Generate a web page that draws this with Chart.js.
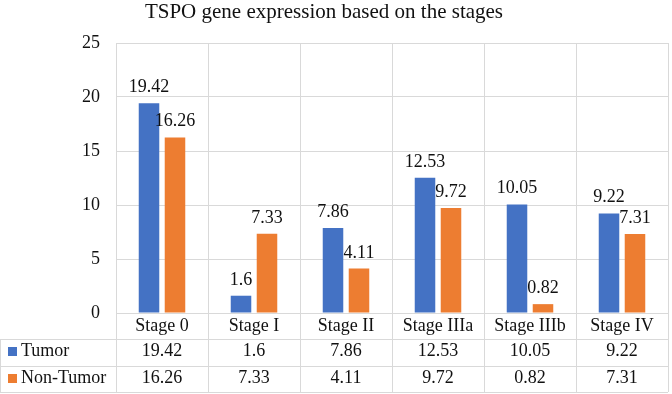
<!DOCTYPE html>
<html>
<head>
<meta charset="utf-8">
<script src="https://cdn.jsdelivr.net/npm/chart.js@4"></script>
<style>
    body { margin: 0; background: #fff; }
    #wrap { position: relative; width: 672px; height: 394px; }
    #title {
        position: absolute; left: 0; top: 1px; width: 648px;
        text-align: center; font-family: "Liberation Serif", "Times New Roman", Times, serif;
        font-size: 21px; line-height: 21px; color: #111; white-space: nowrap;
    }
</style>
</head>
<body>
<div id="wrap">
    <canvas id="StageChart" width="672" height="394"></canvas>
    <div id="title">TSPO gene expression based on the stages</div>
</div>
<script>
// chart data
const stageLabels = ['Stage 0', 'Stage I', 'Stage II', 'Stage IIIa', 'Stage IIIb', 'Stage IV'];
const seriesNames = ['Tumor', 'Non-Tumor'];
const tumorData = [19.42, 1.6, 7.86, 12.53, 10.05, 9.22];
const nonTumorData = [16.26, 7.33, 4.11, 9.72, 0.82, 7.31];
const yTicks = [0, 5, 10, 15, 20, 25];

const blue = '#4472C4';
const orange = '#ED7D31';
const gridColor = '#D9D9D9';
const textColor = '#111';
const serif = '"Liberation Serif", "Times New Roman", Times, serif';

// lines of the data table under the plot, and text baselines of its rows
const tableRows = [339, 366, 392];
const rowBaselines = [356, 383];

// draws bar value labels and the data table (legend + values)
const tablePlugin = {
    id: 'tablePlugin',
    afterDatasetsDraw(chart) {
        const ctx = chart.ctx;
        ctx.save();
        ctx.font = '18px ' + serif;
        ctx.fillStyle = textColor;
        ctx.textAlign = 'center';
        ctx.textBaseline = 'alphabetic';
        chart.data.datasets.forEach((ds, di) => {
            chart.getDatasetMeta(di).data.forEach((bar, i) => {
                ctx.fillText(String(ds.data[i]), bar.x, bar.y - 11);
            });
        });
        ctx.restore();
    },
    afterDraw(chart) {
        const ctx = chart.ctx;
        const area = chart.chartArea;
        const x = chart.scales.x;
        const step = x.getPixelForValue(1) - x.getPixelForValue(0);
        ctx.save();
        ctx.strokeStyle = gridColor;
        ctx.lineWidth = 1;
        ctx.beginPath();
        // vertical lines through the table
        for (let i = 0; i <= stageLabels.length; i++) {
            const px = Math.round(x.getPixelForValue(0) - step / 2 + i * step) + 0.5;
            ctx.moveTo(px, area.bottom);
            ctx.lineTo(px, tableRows[2]);
        }
        ctx.moveTo(0.5, tableRows[0]);
        ctx.lineTo(0.5, tableRows[2]);
        // horizontal lines
        tableRows.forEach(y => {
            ctx.moveTo(0, y + 0.5);
            ctx.lineTo(area.right, y + 0.5);
        });
        ctx.stroke();

        // legend keys and values
        ctx.font = '18px ' + serif;
        ctx.textBaseline = 'alphabetic';
        chart.data.datasets.forEach((ds, di) => {
            const base = rowBaselines[di];
            ctx.fillStyle = ds.backgroundColor;
            ctx.fillRect(8, base - 9, 9, 9);
            ctx.fillStyle = textColor;
            ctx.textAlign = 'left';
            ctx.fillText(ds.label, 21, base);
            ctx.textAlign = 'center';
            ds.data.forEach((v, i) => {
                ctx.fillText(String(v), x.getPixelForValue(i), base);
            });
        });
        ctx.restore();
    }
};

// TSPO expression by stage
const stageCtx = document.getElementById('StageChart').getContext('2d');
const stageChart = new Chart(stageCtx, {
    type: 'bar',
    data: {
        labels: stageLabels,
        datasets: [{
            label: seriesNames[0],
            data: tumorData,
            backgroundColor: blue,
            categoryPercentage: 0.565,
            barPercentage: 0.79
        },
        {
            label: seriesNames[1],
            data: nonTumorData,
            backgroundColor: orange,
            categoryPercentage: 0.565,
            barPercentage: 0.79
        }]
    },
    options: {
        responsive: false,
        animation: false,
        devicePixelRatio: 1,
        layout: {
            padding: {
                top: 43,
                right: 4,
                left: 0,
                bottom: 0
            }
        },
        plugins: {
            legend: { display: false },
            title: { display: false },
            tooltip: { enabled: false }
        },
        scales: {
            y: {
                min: 0,
                max: 25,
                afterBuildTicks: (scale) => {
                    scale.ticks = yTicks.map(v => ({ value: v }));
                },
                afterFit: (scale) => { scale.width = 116; },
                ticks: {
                    color: textColor,
                    padding: 16,
                    font: { family: serif, size: 18 }
                },
                grid: {
                    color: gridColor,
                    drawTicks: false
                },
                border: { color: gridColor }
            },
            x: {
                afterFit: (scale) => { scale.height = 81; },
                ticks: {
                    color: textColor,
                    padding: 2,
                    font: { family: serif, size: 18 }
                },
                grid: {
                    color: gridColor,
                    drawTicks: false
                },
                border: { color: gridColor }
            }
        }
    },
    plugins: [tablePlugin]
});
</script>
</body>
</html>
